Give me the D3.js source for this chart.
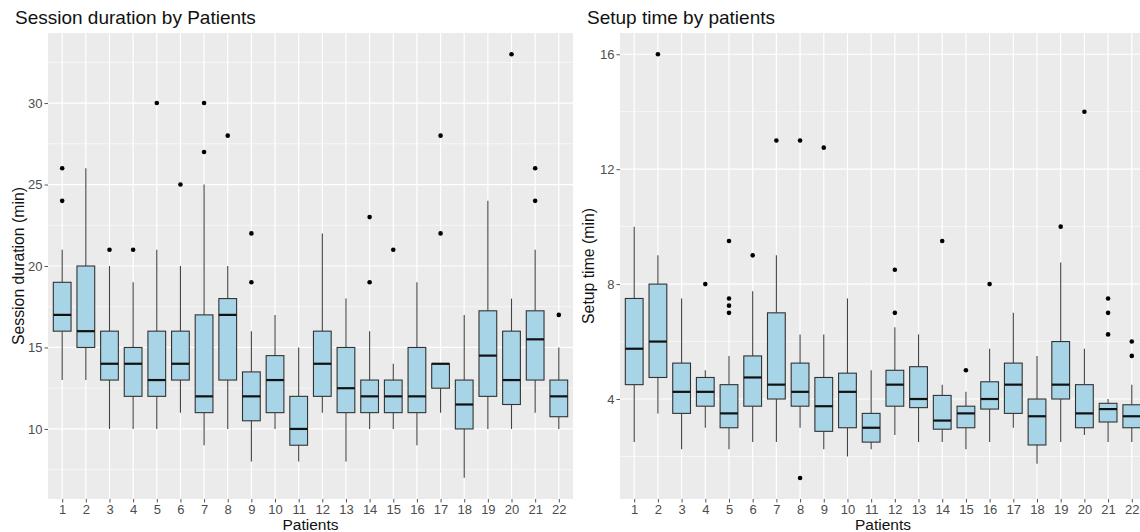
<!DOCTYPE html>
<html>
<head>
<meta charset="utf-8">
<script src="https://cdn.jsdelivr.net/npm/d3@7"></script>
<style>
  body { margin: 0; background: #fff; }
  text { font-family: "Liberation Sans", Arial, sans-serif; }
</style>
</head>
<body>
<div id="chart"></div>
<script>
// patients on the x axis
let patients = ['1','2','3','4','5','6','7','8','9','10','11','12','13','14','15','16','17','18','19','20','21','22'];

// session duration (min) - whiskers, quartiles, median, outliers
let sessLo  = [13, 13, 10, 10, 10, 11, 9, 10, 8, 10, 8, 11, 8, 10, 10, 9, 11, 7, 10, 10, 11, 10];
let sessQ1  = [16, 15, 13, 12, 12, 13, 11, 13, 10.5, 11, 9, 12, 11, 11, 11, 11, 12.5, 10, 12, 11.5, 13, 10.75];
let sessMed = [17, 16, 14, 14, 13, 14, 12, 17, 12, 13, 10, 14, 12.5, 12, 12, 12, 14, 11.5, 14.5, 13, 15.5, 12];
let sessQ3  = [19, 20, 16, 15, 16, 16, 17, 18, 13.5, 14.5, 12, 16, 15, 13, 13, 15, 14, 13, 17.25, 16, 17.25, 13];
let sessHi  = [21, 26, 20, 19, 21, 20, 25, 20, 16, 17, 15, 22, 18, 16, 14, 19, 14, 17, 24, 18, 21, 15];
let sessOut = [[24, 26], [], [21], [21], [30], [25], [27, 30], [28], [19, 22], [], [], [], [], [19, 23], [21], [], [22, 28], [], [], [33], [24, 26], [17]];
let sessTicks = [10, 15, 20, 25, 30];

// setup time (min)
let setLo  = [2.5, 3.5, 2.25, 3, 2.25, 2.5, 2.5, 3, 2.25, 2, 2.25, 2.75, 2.5, 2.5, 2.25, 2.5, 3, 1.75, 2.5, 2.75, 2.5, 2.5];
let setQ1  = [4.5, 4.75, 3.5, 3.75, 3, 3.75, 4, 3.75, 2.875, 3, 2.5, 3.75, 3.7, 2.95, 3, 3.65, 3.5, 2.4, 4, 3, 3.2, 3];
let setMed = [5.75, 6, 4.25, 4.25, 3.5, 4.75, 4.5, 4.25, 3.75, 4.25, 3, 4.5, 4, 3.25, 3.5, 4, 4.5, 3.4, 4.5, 3.5, 3.65, 3.4];
let setQ3  = [7.5, 8, 5.25, 4.75, 4.5, 5.5, 7, 5.25, 4.75, 4.9, 3.5, 5, 5.125, 4.125, 3.75, 4.6, 5.25, 4, 6, 4.5, 3.85, 3.8];
let setHi  = [10, 9, 7.5, 5, 5.5, 7.75, 9, 6.25, 6.25, 7.5, 5, 6.5, 6.25, 4.5, 4.25, 5.75, 7, 5.5, 8.75, 5.75, 4, 4.5];
let setOut = [[], [16], [], [8], [7, 7.25, 7.5, 9.5], [9], [13], [1.25, 13], [12.75], [], [], [7, 8.5], [], [9.5], [5], [8], [], [], [10], [14], [6.25, 7, 7.5], [5.5, 6]];
let setTicks = [4, 8, 12, 16];

let width = 1140;
let height = 532;

let svg = d3.select('#chart')
    .append('svg')
    .attr('width', width)
    .attr('height', height);

function panel(opt) {
    let x = d3.scalePoint().domain(patients).range([opt.x0, opt.x1]).padding(0.6);
    let y = d3.scaleLinear().domain(opt.domain).range([opt.y1, opt.y0]);
    let step = x.step();
    let g = svg.append('g');

    // background
    g.append('rect')
        .attr('x', opt.x0).attr('y', opt.y0)
        .attr('width', opt.x1 - opt.x0).attr('height', opt.y1 - opt.y0)
        .attr('fill', '#ebebeb');

    // minor grid
    g.selectAll('.minor')
        .data(opt.minor)
        .enter().append('line')
        .attr('x1', opt.x0).attr('x2', opt.x1)
        .attr('y1', d => y(d)).attr('y2', d => y(d))
        .attr('stroke', '#fff').attr('stroke-width', 0.6);

    // major grid
    g.selectAll('.majorY')
        .data(opt.ticks)
        .enter().append('line')
        .attr('x1', opt.x0).attr('x2', opt.x1)
        .attr('y1', d => y(d)).attr('y2', d => y(d))
        .attr('stroke', '#fff').attr('stroke-width', 1.2);
    g.selectAll('.majorX')
        .data(patients)
        .enter().append('line')
        .attr('x1', d => x(d)).attr('x2', d => x(d))
        .attr('y1', opt.y0).attr('y2', opt.y1)
        .attr('stroke', '#fff').attr('stroke-width', 1.2);

    // boxes
    let bw = step * 0.75;
    let boxes = g.selectAll('.box')
        .data(patients)
        .enter().append('g');
    boxes.append('line')
        .attr('x1', d => x(d)).attr('x2', d => x(d))
        .attr('y1', (d, i) => y(opt.hi[i])).attr('y2', (d, i) => y(opt.q3[i]))
        .attr('stroke', '#444').attr('stroke-width', 1.1);
    boxes.append('line')
        .attr('x1', d => x(d)).attr('x2', d => x(d))
        .attr('y1', (d, i) => y(opt.q1[i])).attr('y2', (d, i) => y(opt.lo[i]))
        .attr('stroke', '#444').attr('stroke-width', 1.1);
    boxes.append('rect')
        .attr('x', d => x(d) - bw / 2)
        .attr('width', bw)
        .attr('y', (d, i) => y(opt.q3[i]))
        .attr('height', (d, i) => y(opt.q1[i]) - y(opt.q3[i]))
        .attr('fill', '#a7d4e6')
        .attr('stroke', '#333').attr('stroke-width', 1.1);
    boxes.append('line')
        .attr('x1', d => x(d) - bw / 2).attr('x2', d => x(d) + bw / 2)
        .attr('y1', (d, i) => y(opt.med[i])).attr('y2', (d, i) => y(opt.med[i]))
        .attr('stroke', '#111').attr('stroke-width', 2.2);

    // outliers
    let pts = [];
    patients.forEach((p, i) => opt.out[i].forEach(v => pts.push({p: p, v: v})));
    g.selectAll('.out')
        .data(pts)
        .enter().append('circle')
        .attr('cx', d => x(d.p)).attr('cy', d => y(d.v))
        .attr('r', 2.3).attr('fill', '#000');

    // axes
    let yAxis = g.append('g')
        .attr('transform', 'translate(' + opt.x0 + ',0)')
        .call(d3.axisLeft(y).tickValues(opt.ticks).tickSize(3.5).tickPadding(2));
    let xAxis = g.append('g')
        .attr('transform', 'translate(0,' + opt.y1 + ')')
        .call(d3.axisBottom(x).tickSize(3.5).tickPadding(2));
    [yAxis, xAxis].forEach(a => {
        a.select('.domain').remove();
        a.selectAll('line').attr('stroke', '#555');
        a.selectAll('text').attr('fill', '#4d4d4d')
            .style('font-size', '13px')
            .style('font-family', '"Liberation Sans", Arial, sans-serif');
    });

    // titles
    svg.append('text')
        .attr('x', opt.x0 - 33).attr('y', 24)
        .style('font-size', '19px').attr('fill', '#111')
        .text(opt.title);
    svg.append('text')
        .attr('x', (opt.x0 + opt.x1) / 2).attr('y', 530)
        .attr('text-anchor', 'middle')
        .style('font-size', '15.5px').attr('fill', '#111')
        .text('Patients');
    svg.append('text')
        .attr('transform', 'translate(' + opt.yTitleX + ',' + ((opt.y0 + opt.y1) / 2) + ') rotate(-90)')
        .attr('text-anchor', 'middle')
        .style('font-size', '15.8px').attr('fill', '#111')
        .text(opt.yTitle);
}

panel({
    x0: 48, x1: 573, y0: 33, y1: 499,
    domain: [5.7, 34.3],
    ticks: sessTicks, minor: [7.5, 12.5, 17.5, 22.5, 27.5, 32.5],
    lo: sessLo, q1: sessQ1, med: sessMed, q3: sessQ3, hi: sessHi, out: sessOut,
    title: 'Session duration by Patients',
    yTitle: 'Session duration (min)', yTitleX: 24
});

panel({
    x0: 620, x1: 1146, y0: 33, y1: 499,
    domain: [0.52, 16.74],
    ticks: setTicks, minor: [2, 6, 10, 14],
    lo: setLo, q1: setQ1, med: setMed, q3: setQ3, hi: setHi, out: setOut,
    title: 'Setup time by patients',
    yTitle: 'Setup time (min)', yTitleX: 594
});
</script>
</body>
</html>
